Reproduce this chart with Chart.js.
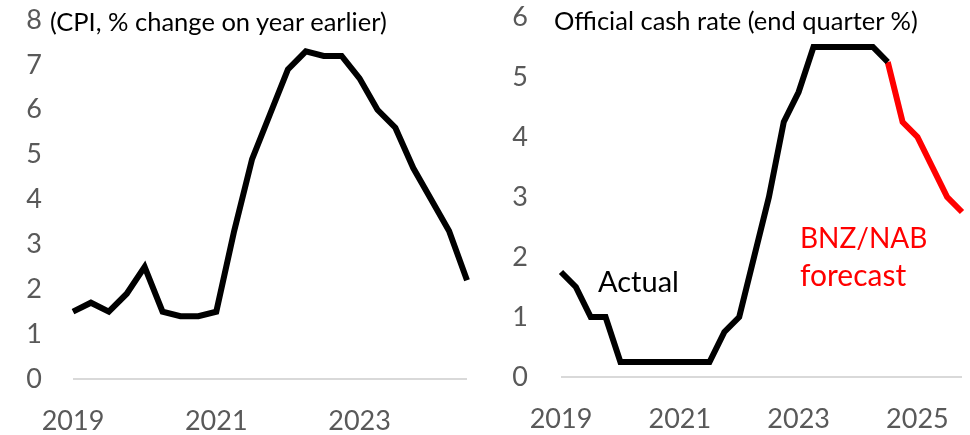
<!DOCTYPE html>
<html>
<head>
<meta charset="utf-8">
<script src="https://cdn.jsdelivr.net/npm/chart.js@4/dist/chart.umd.min.js"></script>
<style>
  html, body { margin: 0; padding: 0; background: #fff; }
  #wrap { position: relative; width: 970px; height: 435px; overflow: hidden; font-family: Lato, 'Noto Sans', sans-serif; }
  canvas { position: absolute; top: 0; }
  #cpiCanvas { left: 0; }
  #ocrCanvas { left: 485px; }
  .note { position: absolute; white-space: nowrap; line-height: 1; }
</style>
</head>
<body>
<div id="wrap">
  <canvas id="cpiCanvas" width="485" height="435"></canvas>
  <canvas id="ocrCanvas" width="485" height="435"></canvas>
  <div class="note" style="left:50px; top:9px; font-size:25.5px; color:#000;">(CPI, % change on year earlier)</div>
  <div class="note" style="left:554px; top:8px; font-size:25.5px; color:#000;">Official cash rate (end quarter %)</div>
  <div class="note" style="left:598px; top:266px; font-size:29px; color:#000;">Actual</div>
  <div class="note" style="left:800px; top:223px; font-size:28px; color:#ff0000;">BNZ/NAB</div>
  <div class="note" style="left:800px; top:259px; font-size:30px; color:#ff0000;">forecast</div>
</div>
<script>
// quarters shown on each panel
const cpiQuarters = [
    '2019Q1', '2019Q2', '2019Q3', '2019Q4',
    '2020Q1', '2020Q2', '2020Q3', '2020Q4',
    '2021Q1', '2021Q2', '2021Q3', '2021Q4',
    '2022Q1', '2022Q2', '2022Q3', '2022Q4',
    '2023Q1', '2023Q2', '2023Q3', '2023Q4',
    '2024Q1', '2024Q2', '2024Q3'
];
const ocrQuarters = [
    '2019Q1', '2019Q2', '2019Q3', '2019Q4',
    '2020Q1', '2020Q2', '2020Q3', '2020Q4',
    '2021Q1', '2021Q2', '2021Q3', '2021Q4',
    '2022Q1', '2022Q2', '2022Q3', '2022Q4',
    '2023Q1', '2023Q2', '2023Q3', '2023Q4',
    '2024Q1', '2024Q2', '2024Q3', '2024Q4',
    '2025Q1', '2025Q2', '2025Q3', '2025Q4'
];

// CPI, % change on year earlier
const cpiValues = [1.5, 1.7, 1.5, 1.9, 2.5, 1.5, 1.4, 1.4, 1.5, 3.3, 4.9, 5.9,
    6.9, 7.3, 7.2, 7.2, 6.7, 6.0, 5.6, 4.7, 4.0, 3.3, 2.2];

// OCR end quarter %, actual then forecast
const ocrActual = [1.75, 1.5, 1.0, 1.0, 0.25, 0.25, 0.25, 0.25, 0.25, 0.25, 0.25, 0.75,
    1.0, 2.0, 3.0, 4.25, 4.75, 5.5, 5.5, 5.5, 5.5, 5.5, 5.25,
    null, null, null, null, null];
const ocrForecast = [null, null, null, null, null, null, null, null, null, null, null, null,
    null, null, null, null, null, null, null, null, null, null, 5.25,
    4.25, 4.0, 3.5, 3.0, 2.75];

const yearTicks = ['2019', '2021', '2023', '2025'];
const cpiYTicks = [0, 8];
const ocrYTicks = [0, 6];

const tickFont = { family: 'Lato', size: 27 };
const tickColor = '#595959';

function makeLine(data, color) {
    return {
        data: data,
        borderColor: color,
        borderWidth: 6,
        pointRadius: 0,
        tension: 0,
        fill: false,
        spanGaps: false,
        borderJoinStyle: 'miter'
    };
}

// no automatic label overflow padding, chart area comes from layout only
function noScalePadding(scale) {
    scale.paddingTop = 0;
    scale.paddingBottom = 0;
    scale.paddingLeft = 0;
    scale.paddingRight = 0;
}

function buildChart(canvasId, labels, datasets, yRange, box) {
    const ctx = document.getElementById(canvasId).getContext('2d');
    return new Chart(ctx, {
        type: 'line',
        data: { labels: labels, datasets: datasets },
        options: {
            responsive: false,
            animation: false,
            layout: { padding: { top: box.top, right: box.right, bottom: 0, left: 0 } },
            plugins: { legend: { display: false }, tooltip: { enabled: false } },
            scales: {
                x: {
                    type: 'category',
                    offset: false,
                    grid: { display: false },
                    border: { display: false },
                    afterFit: (scale) => { scale.height = box.xHeight; noScalePadding(scale); },
                    ticks: {
                        autoSkip: false,
                        maxRotation: 0,
                        padding: box.xPad,
                        font: tickFont,
                        color: tickColor,
                        callback: function (value) {
                            const lab = this.getLabelForValue(value);
                            const year = lab.slice(0, 4);
                            return lab.endsWith('Q1') && yearTicks.includes(year) ? year : '';
                        }
                    }
                },
                y: {
                    min: yRange[0],
                    max: yRange[1],
                    border: { display: false },
                    afterFit: (scale) => { scale.width = box.yWidth; noScalePadding(scale); },
                    grid: {
                        drawTicks: false,
                        lineWidth: 2,
                        color: (c) => c.tick && c.tick.value === 0 ? '#d9d9d9' : 'rgba(0,0,0,0)'
                    },
                    ticks: {
                        stepSize: 1,
                        padding: box.yPad,
                        font: tickFont,
                        color: tickColor
                    }
                }
            }
        }
    });
}

// 左：CPI
buildChart('cpiCanvas', cpiQuarters, [makeLine(cpiValues, '#000000')], cpiYTicks,
    { top: 20, right: 18, xHeight: 56, xPad: 18, yWidth: 73, yPad: 31 });

// 右：OCR
buildChart('ocrCanvas', ocrQuarters,
    [makeLine(ocrActual, '#000000'), makeLine(ocrForecast, '#ff0000')], ocrYTicks,
    { top: 17, right: 8, xHeight: 58, xPad: 18, yWidth: 76, yPad: 33 });
</script>
</body>
</html>
